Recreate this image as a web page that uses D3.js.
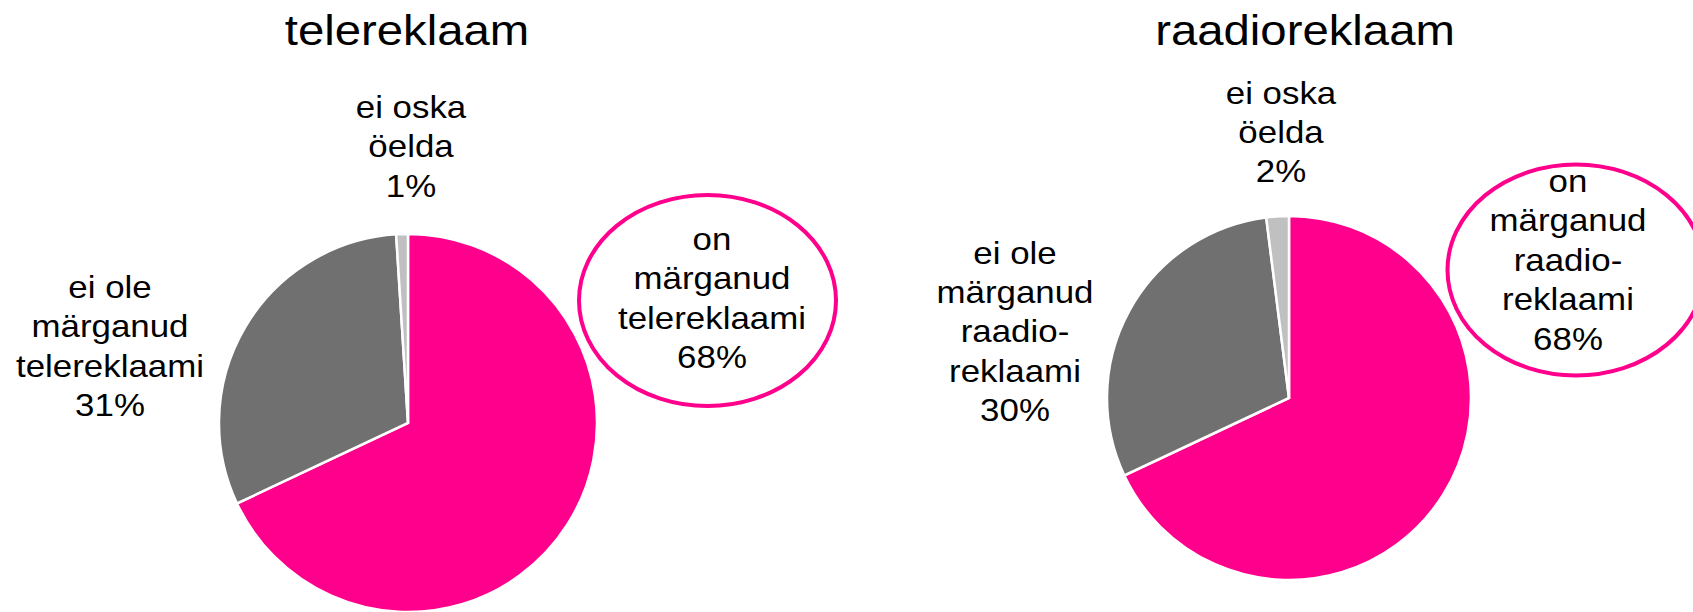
<!DOCTYPE html>
<html>
<head>
<meta charset="utf-8">
<script src="https://cdn.jsdelivr.net/npm/d3@7"></script>
<style>
  html, body { margin: 0; padding: 0; background: #fff; }
  svg { display: block; }
</style>
</head>
<body>
<script>
// data
const categories = ["on märganud", "ei ole märganud", "ei oska öelda"];
const teleValues = [68, 31, 1];
const radioValues = [68, 30, 2];
const colors = ["#FF008C", "#707070", "#C0C0C0"];

const teleLabels = [
    ["on", "märganud", "telereklaami"],
    ["ei ole", "märganud", "telereklaami"],
    ["ei oska", "öelda"]
];
const radioLabels = [
    ["on", "märganud", "raadio-", "reklaami"],
    ["ei ole", "märganud", "raadio-", "reklaami"],
    ["ei oska", "öelda"]
];

const titles = ["telereklaam", "raadioreklaam"];

// layout (positions relative to the page)
const charts = [
    {
        title: titles[0], values: teleValues, labels: teleLabels,
        cx: 408, cy: 423, r: 189, titleX: 407,
        labelPos: [{x: 712, y: 250}, {x: 110, y: 298}, {x: 411, y: 118}],
        ring: {cx: 707.5, cy: 300.5, rx: 128.5, ry: 105.5}
    },
    {
        title: titles[1], values: radioValues, labels: radioLabels,
        cx: 1289, cy: 398, r: 182, titleX: 1305,
        labelPos: [{x: 1568, y: 192}, {x: 1015, y: 263.5}, {x: 1281, y: 103.5}],
        ring: {cx: 1576, cy: 270, rx: 128.5, ry: 105.5}
    }
];

const width = 1693, height = 612;
const lineH = 39.5;

const svg = d3.select("body").append("svg")
    .attr("width", width)
    .attr("height", height);

const pie = d3.pie().sort(null).value(d => d);

charts.forEach(c => {
    const g = svg.append("g");

    // title
    g.append("text")
        .attr("transform", `translate(${c.titleX},45) scale(1.1,1)`)
        .attr("text-anchor", "middle")
        .style("font-family", "'Liberation Sans', Arial, sans-serif")
        .style("font-size", "43px")
        .attr("fill", "#000")
        .text(c.title);

    // slices
    const arc = d3.arc().innerRadius(0).outerRadius(c.r);
    g.append("g")
        .attr("transform", `translate(${c.cx},${c.cy})`)
        .selectAll("path")
        .data(pie(c.values))
        .enter()
        .append("path")
        .attr("d", arc)
        .attr("fill", (d, i) => colors[i])
        .attr("stroke", "#fff")
        .attr("stroke-width", 2.5)
        .attr("stroke-linejoin", "miter");

    // highlight ring round the main label
    g.append("ellipse")
        .attr("cx", c.ring.cx)
        .attr("cy", c.ring.cy)
        .attr("rx", c.ring.rx)
        .attr("ry", c.ring.ry)
        .attr("fill", "none")
        .attr("stroke", colors[0])
        .attr("stroke-width", 4);

    // data labels
    c.values.forEach((v, i) => {
        const lines = [...c.labels[i], v + "%"];
        const p = c.labelPos[i];
        const t = g.append("text")
            .attr("transform", `translate(${p.x},${p.y}) scale(1.09,1)`)
            .attr("text-anchor", "middle")
            .style("font-family", "'Liberation Sans', Arial, sans-serif")
            .style("font-size", "32px")
            .attr("fill", "#000");
        lines.forEach((line, k) => {
            t.append("tspan")
                .attr("x", 0)
                .attr("y", k * lineH)
                .text(line);
        });
    });
});
</script>
</body>
</html>
